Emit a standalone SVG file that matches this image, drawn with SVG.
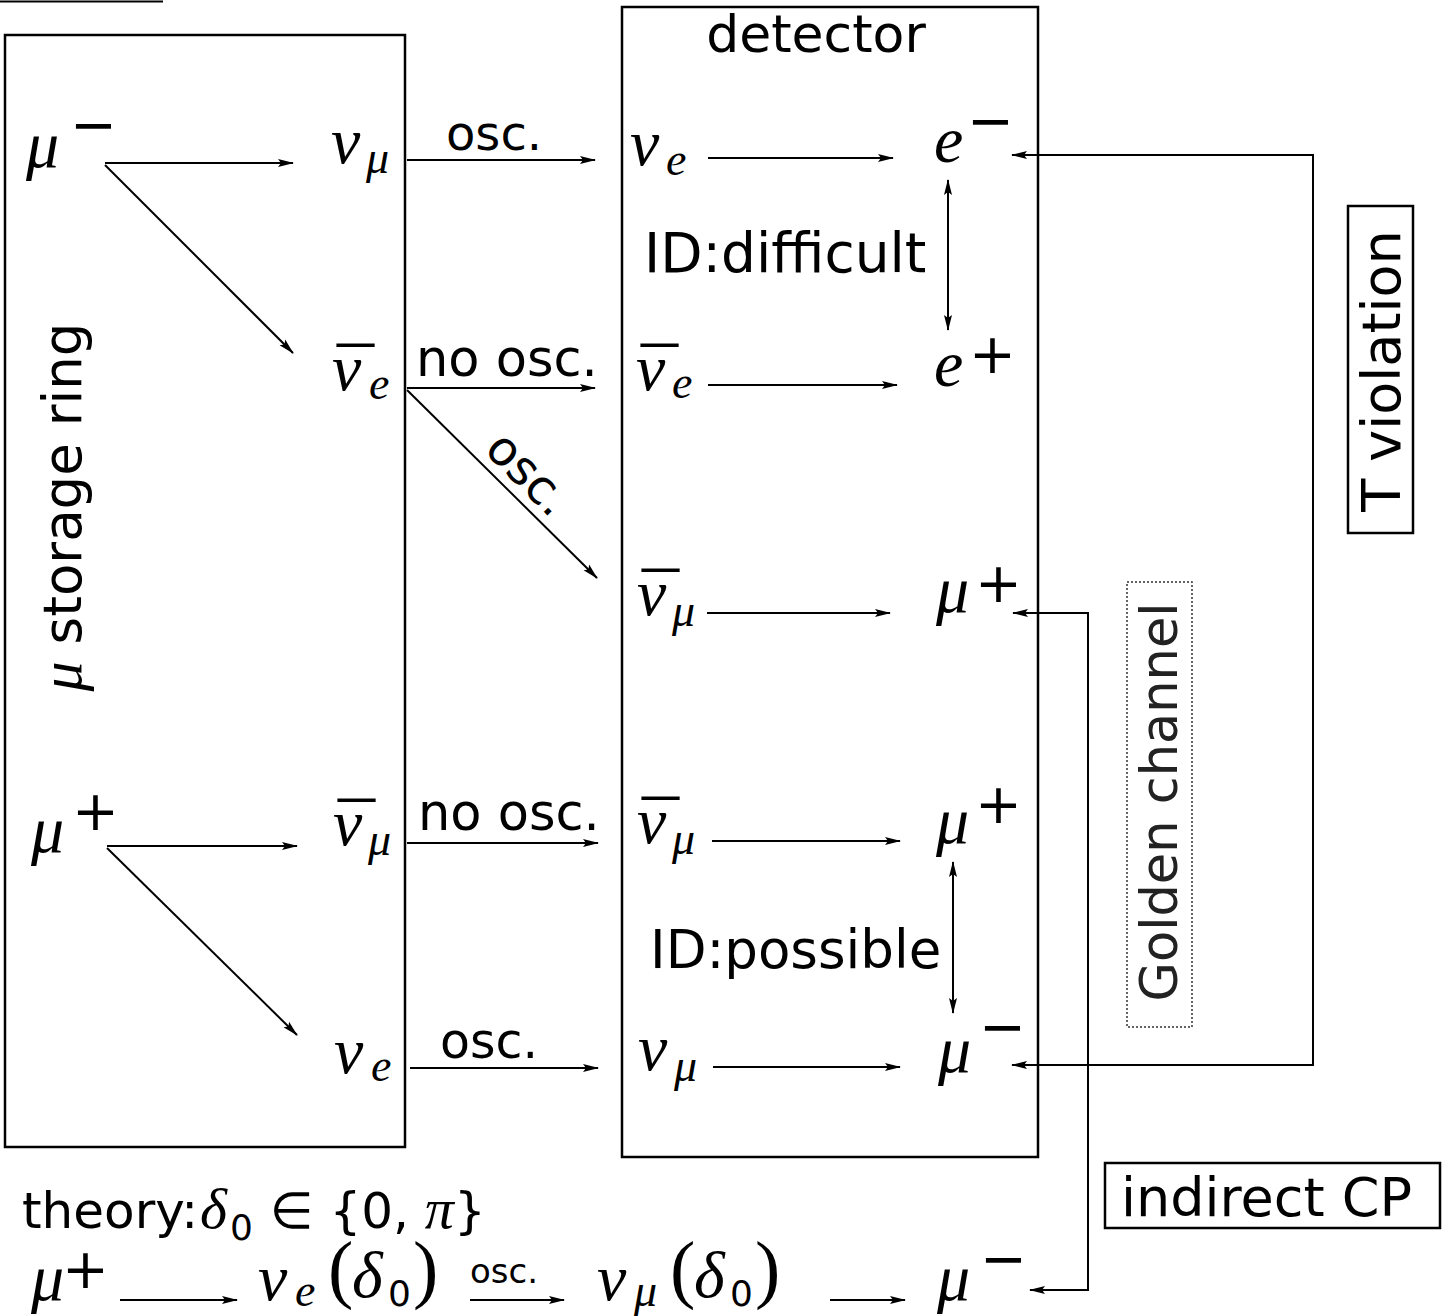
<svg xmlns="http://www.w3.org/2000/svg" width="1450" height="1316" viewBox="0 0 1450 1316">
<style>
.box{fill:none;stroke:#000;stroke-width:2.5}
.ln{fill:none;stroke:#000;stroke-width:2}
.a{marker-end:url(#ah)}
.ab{marker-start:url(#ah);marker-end:url(#ah)}
.s{font-family:"DejaVu Sans",sans-serif;fill:#000}
.m{font-family:"Liberation Serif",serif;font-style:italic;fill:#000}
.up{font-family:"Liberation Serif",serif;font-style:normal}
.big{font-size:66px}
.sub{font-size:46px}
.sg{font-family:"DejaVu Sans",sans-serif;font-style:normal;font-size:56px}
.bar{font-family:"Liberation Serif",serif;font-style:normal;font-size:74px}
.dg{font-family:"DejaVu Sans",sans-serif;font-style:normal;font-size:36px}
</style>
<defs>
<marker id="ah" viewBox="0 0 16 10" refX="15" refY="5" markerWidth="16" markerHeight="10" markerUnits="userSpaceOnUse" orient="auto-start-reverse">
<path d="M0,1 L16,5 L0,9 L3,5 z" fill="#000"/>
</marker>
</defs>
<rect width="1450" height="1316" fill="#fff"/>
<line x1="0" y1="1.5" x2="163" y2="1.5" stroke="#000" stroke-width="2"/>

<g id="storage-ring">
<rect class="box" x="5" y="35" width="400" height="1112"/>
<text class="s" font-size="53" text-anchor="middle" transform="translate(81,507) rotate(-90)"><tspan class="m" font-size="60">μ</tspan> storage ring</text>
</g>

<g id="detector">
<rect class="box" x="622" y="7" width="416" height="1150"/>
<text class="s" font-size="52" x="816" y="52" text-anchor="middle">detector</text>
</g>

<!-- left box labels -->
<g id="mu-minus-src"><text class="m big" x="26" y="167">μ<tspan class="sg" x="70" y="144">−</tspan></text></g>
<g id="numu-src"><text class="m big" x="331" y="163">ν<tspan class="sub" x="366" y="173">μ</tspan></text></g>
<g id="nuebar-src"><text class="m big" x="332" y="390">ν<tspan class="sub" x="369" y="399">e</tspan><tspan class="bar" x="337" y="400">¯</tspan></text></g>
<g id="mu-plus-src"><text class="m big" x="31" y="852">μ<tspan class="sg" x="72" y="830">+</tspan></text></g>
<g id="numubar-src"><text class="m big" x="333" y="845">ν<tspan class="sub" x="368" y="855">μ</tspan><tspan class="bar" x="338" y="855">¯</tspan></text></g>
<g id="nue-src"><text class="m big" x="334" y="1073">ν<tspan class="sub" x="371" y="1081">e</tspan></text></g>

<!-- detector labels -->
<g id="nue-det"><text class="m big" x="630" y="165">ν<tspan class="sub" x="666" y="175">e</tspan></text></g>
<g id="e-minus"><text class="m big" x="934" y="162">e<tspan class="sg" x="967" y="140">−</tspan></text></g>
<g id="nuebar-det"><text class="m big" x="636" y="390">ν<tspan class="sub" x="672" y="398">e</tspan><tspan class="bar" x="641" y="400">¯</tspan></text></g>
<g id="e-plus"><text class="m big" x="934" y="386">e<tspan class="sg" x="969" y="373">+</tspan></text></g>
<g id="numubar-det1"><text class="m big" x="637" y="615">ν<tspan class="sub" x="672" y="626">μ</tspan><tspan class="bar" x="642" y="625">¯</tspan></text></g>
<g id="mu-plus-det1"><text class="m big" x="936" y="612">μ<tspan class="sg" x="975" y="602">+</tspan></text></g>
<g id="numubar-det2"><text class="m big" x="637" y="843">ν<tspan class="sub" x="672" y="854">μ</tspan><tspan class="bar" x="642" y="853">¯</tspan></text></g>
<g id="mu-plus-det2"><text class="m big" x="936" y="843">μ<tspan class="sg" x="975" y="823">+</tspan></text></g>
<g id="numu-det"><text class="m big" x="638" y="1070">ν<tspan class="sub" x="674" y="1081">μ</tspan></text></g>
<g id="mu-minus-det"><text class="m big" x="938" y="1072">μ<tspan class="sg" x="979" y="1046">−</tspan></text></g>

<g id="id-labels">
<text class="s" font-size="55" x="644" y="272">ID:difficult</text>
<text class="s" font-size="53" x="650" y="968">ID:possible</text>
</g>

<g id="osc-labels">
<text class="s" font-size="48" x="446" y="150">osc.</text>
<text class="s" font-size="51" x="416" y="376">no osc.</text>
<text class="s" font-size="48" text-anchor="middle" transform="translate(517,485) rotate(45)">osc.</text>
<text class="s" font-size="51" x="418" y="830">no osc.</text>
<text class="s" font-size="49" x="440" y="1058">osc.</text>
</g>

<g id="t-violation">
<rect class="box" x="1348" y="206" width="65" height="327"/>
<text class="s" font-size="54" text-anchor="middle" transform="translate(1400,371) rotate(-90)">T violation</text>
</g>
<g id="golden-channel">
<rect x="1127" y="582" width="65" height="445" fill="none" stroke="#333" stroke-width="1.5" stroke-dasharray="2,2"/>
<text class="s" font-size="51" text-anchor="middle" transform="translate(1177,802) rotate(-90)" style="fill:#222">Golden channel</text>
</g>
<g id="indirect-cp">
<rect class="box" x="1105" y="1163" width="335" height="65"/>
<text class="s" font-size="54" x="1121" y="1216">indirect CP</text>
</g>

<g id="theory">
<text class="s" font-size="50" x="22" y="1228">theory:<tspan class="m" font-size="58" x="200" y="1228">δ</tspan><tspan font-size="36" x="230" y="1240">0</tspan><tspan x="270" y="1228">∈ {0, <tspan class="m" font-size="58">π</tspan>}</tspan></text>
</g>
<g id="cp-chain">
<text class="m big" x="31" y="1300">μ<tspan class="sg" x="62" y="1288">+</tspan></text>
<text class="m big" x="258" y="1300">ν<tspan class="sub" x="295" y="1306">e</tspan><tspan class="up" font-size="76" x="328" y="1294">(</tspan><tspan x="352" y="1297">δ</tspan><tspan class="dg" x="388" y="1306">0</tspan><tspan class="up" font-size="76" x="413" y="1294">)</tspan></text>
<text class="s" font-size="34" x="470" y="1283">osc.</text>
<text class="m big" x="597" y="1300">ν<tspan class="sub" x="634" y="1306">μ</tspan><tspan class="up" font-size="76" x="670" y="1294">(</tspan><tspan x="694" y="1297">δ</tspan><tspan class="dg" x="730" y="1306">0</tspan><tspan class="up" font-size="76" x="755" y="1294">)</tspan></text>
<text class="m big" x="937" y="1300">μ<tspan class="sg" x="980" y="1278">−</tspan></text>
</g>

<g id="connectors">
<line class="ln a" x1="105" y1="163" x2="293" y2="163"/>
<line class="ln a" x1="105" y1="165" x2="293" y2="353"/>
<line class="ln a" x1="107" y1="846" x2="297" y2="846"/>
<line class="ln a" x1="107" y1="848" x2="297" y2="1035"/>
<line class="ln a" x1="407" y1="160" x2="595" y2="160"/>
<line class="ln a" x1="407" y1="388" x2="595" y2="388"/>
<line class="ln a" x1="407" y1="390" x2="597" y2="578"/>
<line class="ln a" x1="407" y1="843" x2="598" y2="843"/>
<line class="ln a" x1="410" y1="1068" x2="598" y2="1068"/>
<line class="ln a" x1="708" y1="158" x2="893" y2="158"/>
<line class="ln a" x1="708" y1="385" x2="897" y2="385"/>
<line class="ln a" x1="707" y1="613" x2="890" y2="613"/>
<line class="ln a" x1="712" y1="841" x2="900" y2="841"/>
<line class="ln a" x1="713" y1="1067" x2="900" y2="1067"/>
<line class="ln ab" x1="948" y1="180" x2="948" y2="330"/>
<line class="ln ab" x1="953" y1="862" x2="953" y2="1013"/>
<path class="ln ab" d="M1012,155 H1313 V1065 H1012"/>
<path class="ln ab" d="M1013,613 H1088 V1290 H1030"/>
<line class="ln a" x1="120" y1="1300" x2="237" y2="1300"/>
<line class="ln a" x1="470" y1="1300" x2="564" y2="1300"/>
<line class="ln a" x1="830" y1="1300" x2="905" y2="1300"/>
</g>
</svg>
